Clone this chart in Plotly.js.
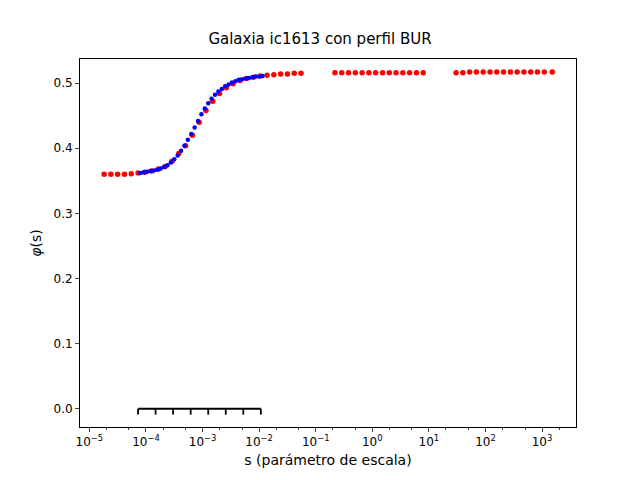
<!DOCTYPE html>
<html>
<head>
<script src="https://cdn.plot.ly/plotly-3.0.1.min.js"></script>
<style>body{margin:0}</style>
</head>
<body>
<div id="graph" style="width:640px;height:480px"></div>
<script>
// red points: log10(s) and phi(s)
const redExp = [-4.74,-4.62,-4.50,-4.38,-4.26,-4.14,-4.02,-3.90,-3.78,-3.66,-3.54,-3.42,-3.30,-3.18,-3.06,-2.94,-2.82,-2.70,-2.58,-2.46,-2.34,-2.22,-2.10,-1.98,-1.86,-1.74,-1.62,-1.50,-1.38,-1.26,
  -0.66,-0.54,-0.42,-0.30,-0.18,-0.06,0.06,0.18,0.30,0.42,0.54,0.66,0.78,0.90,
  1.48,1.60,1.72,1.84,1.96,2.08,2.20,2.32,2.44,2.56,2.68,2.80,2.92,3.04,3.18];
const redPhi = [0.360,0.360,0.360,0.360,0.361,0.362,0.363,0.365,0.368,0.372,0.380,0.392,0.404,0.420,0.440,0.458,0.472,0.484,0.493,0.499,0.504,0.507,0.509,0.511,0.512,0.513,0.514,0.514,0.515,0.515,
  0.516,0.516,0.516,0.516,0.516,0.516,0.516,0.516,0.516,0.516,0.516,0.516,0.516,0.516,
  0.516,0.516,0.517,0.517,0.517,0.517,0.517,0.517,0.517,0.517,0.517,0.517,0.517,0.517,0.517];
// blue points
const blueExp = [-4.10,-4.04,-3.98,-3.92,-3.86,-3.80,-3.74,-3.68,-3.62,-3.56,-3.50,-3.44,-3.38,-3.32,-3.26,-3.20,-3.14,-3.08,-3.02,-2.96,-2.90,-2.84,-2.78,-2.72,-2.66,-2.60,-2.54,-2.48,-2.42,-2.36,-2.30,-2.24,-2.18,-2.12,-2.06,-2.00,-1.94];
const bluePhi = [0.362,0.363,0.364,0.365,0.366,0.367,0.369,0.371,0.374,0.378,0.383,0.389,0.396,0.404,0.413,0.422,0.432,0.442,0.452,0.461,0.469,0.476,0.482,0.487,0.491,0.495,0.498,0.501,0.503,0.505,0.506,0.507,0.508,0.509,0.510,0.510,0.511];
// scale bar at phi = 0
const barExp = [-4.14,-3.83,-3.52,-3.21,-2.90,-2.59,-2.28,-1.97];
const tickExp = [-5,-4,-3,-2,-1,0,1,2,3];

const pow = e => Math.pow(10, e);

const barX = [], barY = [];
barExp.forEach(e => { barX.push(pow(e), pow(e), null); barY.push(-0.009, 0, null); });
barX.push(pow(barExp[0]), pow(barExp[barExp.length - 1]));
barY.push(0, 0);

const tickText = tickExp.map(e => e === 0 ? "10<sup>0</sup>" : "10<sup>" + (e < 0 ? "\u2212" + (-e) : e) + "</sup>");

Plotly.newPlot("graph", [
  { x: barX, y: barY, mode: "lines", line: { color: "black", width: 1.8 }, hoverinfo: "skip" },
  { x: redExp.map(pow), y: redPhi, mode: "markers", marker: { color: "red", size: 5.5 } },
  { x: blueExp.map(pow), y: bluePhi, mode: "markers", marker: { color: "blue", size: 4.5 } }
], {
  width: 640, height: 480,
  showlegend: false,
  margin: { l: 80, r: 64, t: 59, b: 53 },
  paper_bgcolor: "white",
  plot_bgcolor: "white",
  font: { family: "DejaVu Sans", size: 12, color: "black" },
  title: { text: "Galaxia ic1613 con perfil BUR", x: 0.5, y: 0.93, font: { size: 15 } },
  xaxis: {
    type: "log", range: [-5.166, 3.60],
    tickvals: tickExp.map(pow), ticktext: tickText,
    ticks: "outside", ticklen: 4, showgrid: false, zeroline: false,
    showline: true, mirror: true, linecolor: "black", linewidth: 1,
    minor: { ticks: "outside", ticklen: 2, showgrid: false },
    title: { text: "s (parámetro de escala)", standoff: 6 }
  },
  yaxis: {
    range: [-0.028, 0.537], dtick: 0.1, tickformat: ".1f",
    ticks: "outside", ticklen: 4, showgrid: false, zeroline: false,
    showline: true, mirror: true, linecolor: "black", linewidth: 1,
    title: { text: "<i>φ</i>(s)", standoff: 8 }
  }
}, { displayModeBar: false });
</script>
</body>
</html>
